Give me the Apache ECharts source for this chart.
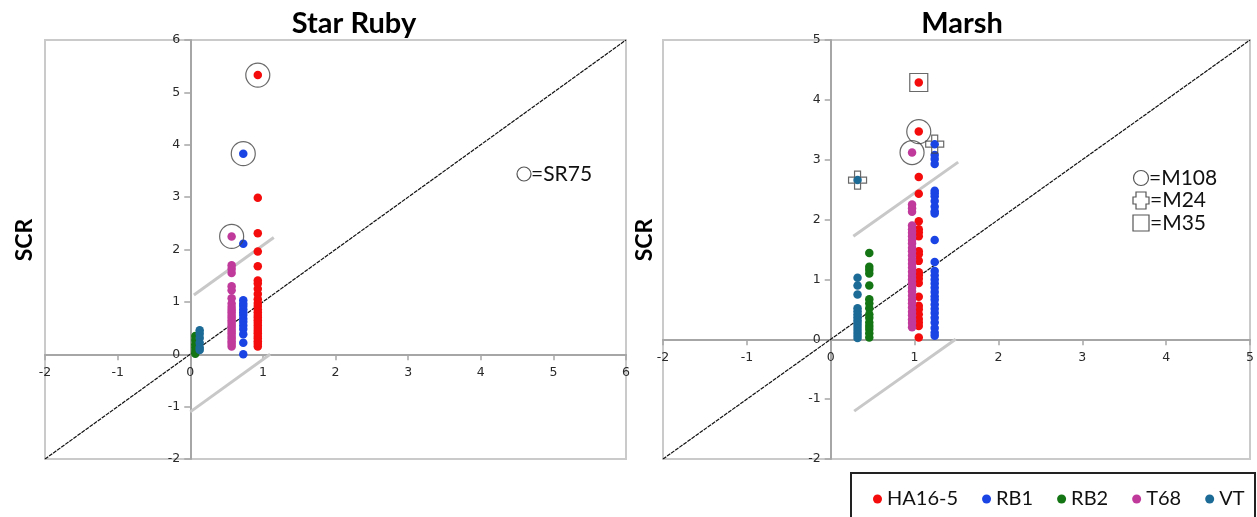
<!DOCTYPE html>
<html>
<head>
<meta charset="utf-8">
<script src="https://cdn.jsdelivr.net/npm/echarts@6/dist/echarts.min.js"></script>
<style>
  html, body { margin: 0; padding: 0; background: #fff; }
  #chart { width: 1257px; height: 517px; }
</style>
</head>
<body>
<div id="chart"></div>
<script>
// series names and colours
const seriesNames = ['HA16-5', 'RB1', 'RB2', 'T68', 'VT'];
const seriesColors = ['#f40c0c', '#1a44e4', '#137513', '#c03a9c', '#1c6a96'];

// Star Ruby: column x position and SCR values per line
const srX = [0.93, 0.73, 0.07, 0.57, 0.13];
const srHA16 = [5.33, 2.99, 2.31, 1.96, 1.68, 1.41, 1.35, 1.25, 1.15, 1.05, 0.98, 0.92, 0.86, 0.8, 0.75, 0.7, 0.65, 0.6, 0.55, 0.5, 0.45, 0.4, 0.35, 0.3, 0.25, 0.2, 0.15];
const srRB1 = [3.83, 2.11, 1.03, 0.97, 0.92, 0.86, 0.8, 0.75, 0.68, 0.62, 0.55, 0.48, 0.38, 0.22, 0.0];
const srRB2 = [0.35, 0.27, 0.19, 0.13, 0.06, 0.01];
const srT68 = [2.25, 1.7, 1.63, 1.55, 1.3, 1.22, 1.07, 0.97, 0.9, 0.85, 0.8, 0.75, 0.7, 0.65, 0.6, 0.55, 0.5, 0.45, 0.4, 0.35, 0.3, 0.25, 0.2, 0.15];
const srVT = [0.46, 0.39, 0.31, 0.22, 0.13, 0.08];

// Marsh
const mX = [1.05, 1.24, 0.46, 0.97, 0.32];
const mHA16 = [4.29, 3.47, 2.71, 2.43, 1.97, 1.84, 1.79, 1.72, 1.47, 1.42, 1.31, 1.12, 1.07, 1.01, 0.94, 0.71, 0.56, 0.5, 0.42, 0.34, 0.28, 0.22, 0.03];
const mRB1 = [3.26, 3.08, 3.01, 2.93, 2.48, 2.44, 2.39, 2.31, 2.22, 2.14, 2.1, 1.66, 1.29, 1.14, 1.07, 1.0, 0.93, 0.86, 0.79, 0.72, 0.66, 0.58, 0.51, 0.44, 0.36, 0.28, 0.19, 0.11, 0.06];
const mRB2 = [1.44, 1.21, 1.16, 1.1, 0.9, 0.67, 0.6, 0.52, 0.42, 0.36, 0.28, 0.22, 0.17, 0.1, 0.03];
const mT68 = [3.12, 2.25, 2.19, 2.13, 1.9, 1.84, 1.78, 1.72, 1.66, 1.6, 1.53, 1.47, 1.4, 1.33, 1.26, 1.2, 1.13, 1.06, 1.0, 0.93, 0.86, 0.8, 0.73, 0.66, 0.6, 0.53, 0.46, 0.4, 0.33, 0.27, 0.2];
const mVT = [2.66, 1.03, 0.9, 0.75, 0.52, 0.47, 0.42, 0.37, 0.32, 0.27, 0.22, 0.17, 0.12, 0.07, 0.02];

// marked points
const srCircled = [[0.93, 5.33], [0.73, 3.83], [0.57, 2.25]];
const mCircled = [[1.05, 3.47], [0.97, 3.12]];
const mCrossed = [[1.24, 3.26], [0.32, 2.66]];
const mBoxed = [[1.05, 4.29]];

// reference lines
const srDiag = [[-2, -2], [6, 6]];
const srUpper = [[0.05, 1.13], [1.15, 2.23]];
const srLower = [[0, -1.1], [1.1, 0]];
const mDiag = [[-2, -2], [5, 5]];
const mUpper = [[0.27, 1.72], [1.52, 2.96]];
const mLower = [[0.28, -1.2], [1.49, 0]];

const srValues = [srHA16, srRB1, srRB2, srT68, srVT];
const mValues = [mHA16, mRB1, mRB2, mT68, mVT];

const crossPath = 'path://M1,0H2V1H3V2H2V3H1V2H0V1H1Z';
const tickFont = { fontFamily: 'DejaVu Sans', fontSize: 12.5, color: '#2a2a2a' };

// grid boxes (px)
const boxes = [
  { left: 45, top: 40, width: 581, height: 419, xmax: 6, ymax: 6 },
  { left: 663, top: 40, width: 587, height: 419, xmax: 5, ymax: 5 }
];

// the axes sit on the zero lines, so shift them inwards by the zero position
function xAxisOf(grid) {
  const b = boxes[grid];
  const zeroFromBottom = b.height * 2 / (b.ymax + 2);
  return {
    gridIndex: grid, type: 'value', min: -2, max: b.xmax, interval: 1,
    position: 'bottom', offset: -zeroFromBottom,
    axisLine: { onZero: false, lineStyle: { color: '#a6a6a6', width: 2 } },
    axisTick: { show: true, length: 6, lineStyle: { color: '#a6a6a6', width: 1.5 } },
    axisLabel: Object.assign({ margin: 12 }, tickFont),
    splitLine: { show: false }
  };
}
function yAxisOf(grid) {
  const b = boxes[grid];
  const zeroFromLeft = b.width * 2 / (b.xmax + 2);
  return {
    gridIndex: grid, type: 'value', min: -2, max: b.ymax, interval: 1,
    position: 'left', offset: -zeroFromLeft,
    axisLine: { onZero: false, lineStyle: { color: '#a6a6a6', width: 2 } },
    axisTick: { show: true, length: 6, lineStyle: { color: '#a6a6a6', width: 1.5 } },
    axisLabel: Object.assign({ margin: 10 }, tickFont),
    splitLine: { show: false }
  };
}

function refLine(idx, data, color, width, type) {
  return {
    type: 'line', xAxisIndex: idx, yAxisIndex: idx, data: data,
    symbol: 'none', silent: true, z: 1,
    lineStyle: { color: color, width: width, type: type }
  };
}
function marks(idx, data, symbol, size) {
  return {
    type: 'scatter', xAxisIndex: idx, yAxisIndex: idx, data: data,
    symbol: symbol, symbolSize: size, silent: true, z: 3,
    itemStyle: { color: 'rgba(0,0,0,0)', borderColor: '#444', borderWidth: 1.2 }
  };
}

const series = [];
series.push(refLine(0, srDiag, '#111', 1.2, [4, 1]));
series.push(refLine(0, srUpper, '#c8c8c8', 3, 'solid'));
series.push(refLine(0, srLower, '#c8c8c8', 3, 'solid'));
series.push(refLine(1, mDiag, '#111', 1.2, [4, 1]));
series.push(refLine(1, mUpper, '#c8c8c8', 3, 'solid'));
series.push(refLine(1, mLower, '#c8c8c8', 3, 'solid'));

seriesNames.forEach((name, i) => {
  series.push({
    name: name, type: 'scatter', xAxisIndex: 0, yAxisIndex: 0,
    symbolSize: 8.5, z: 2,
    itemStyle: { color: seriesColors[i], opacity: 1 },
    data: srValues[i].map(v => [srX[i], v])
  });
  series.push({
    name: name, type: 'scatter', xAxisIndex: 1, yAxisIndex: 1,
    symbolSize: 8.5, z: 2,
    itemStyle: { color: seriesColors[i], opacity: 1 },
    data: mValues[i].map(v => [mX[i], v])
  });
});

series.push(marks(0, srCircled, 'circle', 24));
series.push(marks(1, mCircled, 'circle', 24));
series.push(marks(1, mCrossed, crossPath, 18));
series.push(marks(1, mBoxed, 'rect', 18));

const textFont = 'Lato, "Open Sans", sans-serif';
const noteStyle = { fontFamily: textFont, fontSize: 21, fill: '#111' };
const outline = { fill: 'none', stroke: '#555', lineWidth: 1.2 };
const titleStyle = { fontFamily: textFont, fontSize: 29, fontWeight: 'bold', color: '#000' };

const option = {
  animation: false,
  backgroundColor: '#fff',
  title: [
    { text: 'Star Ruby', left: 354, top: 9, textAlign: 'center', padding: 0, textStyle: titleStyle },
    { text: 'Marsh', left: 962, top: 9, textAlign: 'center', padding: 0, textStyle: titleStyle }
  ],
  grid: boxes.map(b => ({
    left: b.left, top: b.top, width: b.width, height: b.height,
    show: true, borderColor: '#cacaca', borderWidth: 2, backgroundColor: 'transparent'
  })),
  xAxis: [xAxisOf(0), xAxisOf(1)],
  yAxis: [yAxisOf(0), yAxisOf(1)],
  legend: {
    data: seriesNames,
    left: 868, top: 484,
    icon: 'circle', itemWidth: 9, itemHeight: 9, itemGap: 24,
    textStyle: { fontFamily: textFont, fontSize: 20, color: '#111' }
  },
  graphic: [
    { type: 'rect', shape: { x: 851, y: 473, width: 404, height: 60 },
      style: { fill: 'none', stroke: '#222', lineWidth: 2 }, silent: true },
    { type: 'text', style: { text: 'SCR', fontFamily: textFont, fontSize: 23, fontWeight: 'bold', fill: '#000', align: 'center', verticalAlign: 'middle' },
      x: 25, y: 240, rotation: Math.PI / 2 },
    { type: 'text', style: { text: 'SCR', fontFamily: textFont, fontSize: 23, fontWeight: 'bold', fill: '#000', align: 'center', verticalAlign: 'middle' },
      x: 645, y: 240, rotation: Math.PI / 2 },
    { type: 'circle', shape: { cx: 524, cy: 174, r: 7 }, style: outline },
    { type: 'text', x: 531, y: 174, style: Object.assign({ text: '=SR75', verticalAlign: 'middle' }, noteStyle) },
    { type: 'circle', shape: { cx: 1141, cy: 178, r: 7.5 }, style: outline },
    { type: 'text', x: 1149, y: 178, style: Object.assign({ text: '=M108', verticalAlign: 'middle' }, noteStyle) },
    { type: 'polygon', shape: { points: [[1136, 192], [1146, 192], [1146, 197], [1149, 197], [1149, 204], [1146, 204], [1146, 209], [1136, 209], [1136, 204], [1133, 204], [1133, 197], [1136, 197]] }, style: outline },
    { type: 'text', x: 1150, y: 200, style: Object.assign({ text: '=M24', verticalAlign: 'middle' }, noteStyle) },
    { type: 'rect', shape: { x: 1133, y: 215, width: 16, height: 16 }, style: outline },
    { type: 'text', x: 1150, y: 223, style: Object.assign({ text: '=M35', verticalAlign: 'middle' }, noteStyle) }
  ],
  series: series
};

const myChart = echarts.init(document.getElementById('chart'));
myChart.setOption(option);
</script>
</body>
</html>
